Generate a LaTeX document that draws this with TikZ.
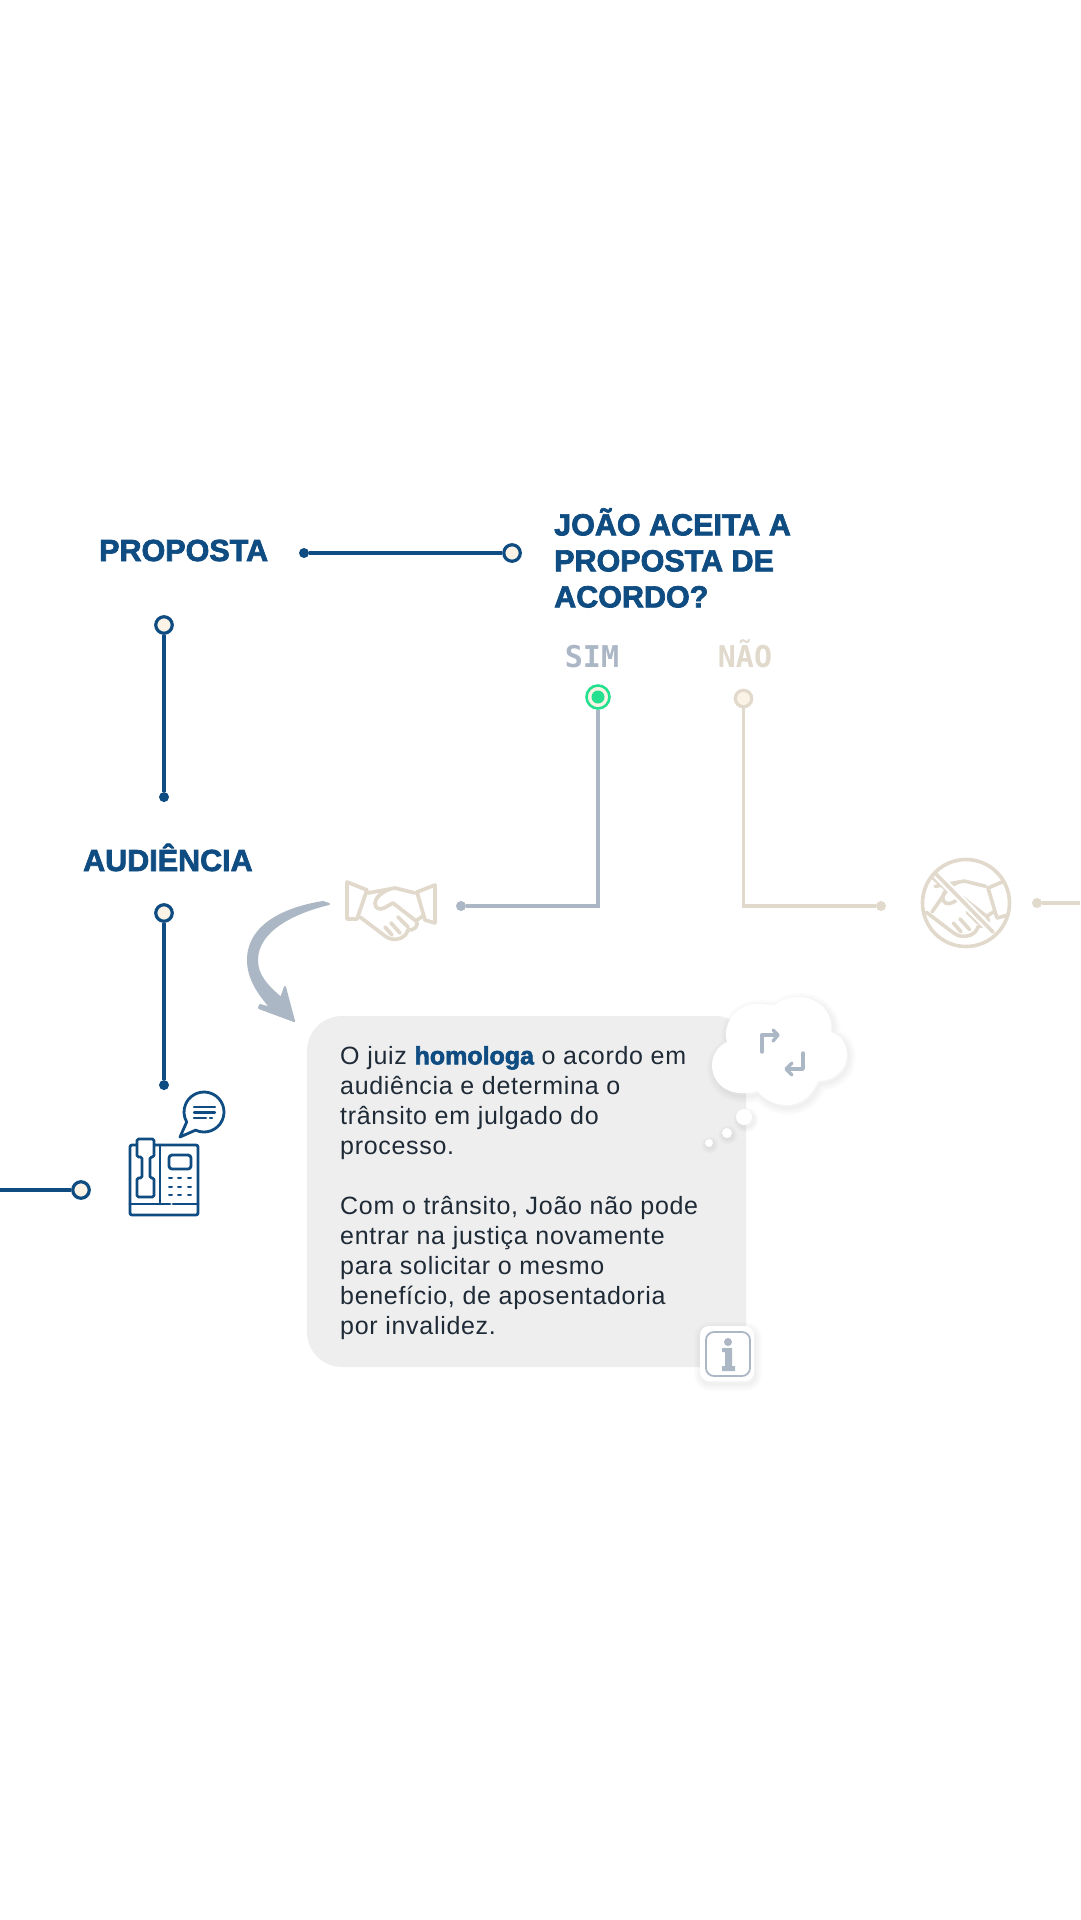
\documentclass[tikz,border=0pt]{standalone}
\usepackage{fontspec}
\setmainfont{Liberation Sans}
\newfontfamily\headfont[FakeBold=2.4]{Liberation Sans Bold}
\newfontfamily\bodyfont[LetterSpace=2.8]{Liberation Sans}
\newfontfamily\monofont{DejaVu Sans Mono Bold}
\usetikzlibrary{positioning, calc}

\definecolor{navy}{HTML}{0F4C81}
\definecolor{steel}{HTML}{ACB7C6}
\definecolor{sand}{HTML}{E1DACC}
\definecolor{cream}{HTML}{FBF3E6}
\definecolor{mint}{HTML}{25E08F}
\definecolor{cardgray}{HTML}{EEEEEE}
\definecolor{ink}{HTML}{1F2A37}

\newcommand{\handclasp}{%
  \draw (-24,-20) -- (-2,-24) .. controls (-10,-21) and (-17,-15) .. (-17,-10)
    .. controls (-17,-4) and (-12,-3) .. (-8,-5) -- (1,-10) -- (24,8)
    .. controls (28,12) and (22,18) .. (16,17) .. controls (14,22) and (12,24) .. (9,25)
    .. controls (4,27) and (-2,27) .. (-7,23) -- (-32,4);
  \draw (23,-20) -- (3,-25) -- (-2,-24);
  \draw (25,7) -- (31,3);
  \draw (6,4) -- (16,14);
  \draw (-1,10) -- (8,20);
  \draw (-7,14) -- (0,22);
}
\newcommand{\cloudpath}{(727,1042) .. controls (722,1025) and (735,1004) .. (757,1004)
  .. controls (765,1004) and (770,1005) .. (775,1005) .. controls (782,999) and (790,997) .. (798,997)
  .. controls (818,997) and (834,1012) .. (831,1032) .. controls (842,1035) and (847,1045) .. (847,1055)
  .. controls (847,1070) and (833,1081) .. (818,1081) .. controls (812,1096) and (800,1105) .. (787,1105)
  .. controls (775,1105) and (765,1100) .. (757,1091) .. controls (752,1093) and (748,1093) .. (742,1093)
  .. controls (725,1093) and (712,1082) .. (712,1065) .. controls (712,1055) and (718,1046) .. (727,1042) -- cycle}

\begin{document}
\begin{tikzpicture}[
    x=1pt, y=-1pt,
    ringnode/.style={draw=navy, circle, fill=cream, line width=3.2pt, minimum size=16.5pt, inner sep=0pt},
    dotnode/.style={circle, fill=navy, minimum size=10pt, inner sep=0pt},
    headtext/.style={text=navy, font=\headfont\fontsize{30.5}{36}\selectfont, inner sep=0pt, align=left},
    choicetext/.style={font=\monofont\fontsize{30}{34}\selectfont, inner sep=0pt, anchor=base},
    link/.style={line width=3.2pt, navy}
]
\useasboundingbox[fill=white] (0,0) rectangle (1080,1920);

% Nodes
\node (proposta) [headtext, anchor=base west] at (99,561) {PROPOSTA};
\node (propostadot) [dotnode] at (304,553) {};
\node (propostaring) [ringnode, right=193pt of propostadot] {};
\node (pergunta) [headtext, anchor=north west] at (554,508) {JOÃO ACEITA A\\PROPOSTA DE\\ACORDO?};
\node (simlabel) [choicetext, text=steel] at (592,667) {SIM};
\node (naolabel) [choicetext, text=sand] at (745,667) {NÃO};
\node (simring) [draw=mint, circle, fill=cream, line width=2.6pt, minimum size=23pt, inner sep=0pt] at (598,697) {};
\node (simcore) [circle, fill=mint, minimum size=13pt, inner sep=0pt] at (simring) {};
\node (naoring) [ringnode, draw=sand] at (743.5,698.5) {};
\node (simdot) [dotnode, fill=steel] at (461,906) {};
\node (naodot) [dotnode, fill=sand] at (881,906) {};
\node (semdot) [dotnode, fill=sand] at (1037,903) {};
\coordinate (semend) at (1080,903);
\node (topring) [ringnode] at (164,625) {};
\node (topdot) [dotnode, below=157pt of topring] {};
\node (audiencia) [headtext, anchor=base west] at (83,871) {AUDIÊNCIA};
\node (midring) [ringnode] at (164,913) {};
\node (middot) [dotnode, below=157pt of midring] {};
\coordinate (lowstart) at (0,1190);
\node (lowring) [ringnode] at (81,1190) {};

% Arrows
\draw[link] (propostadot) -- (propostaring);
\draw[link] (topring) -- (topdot);
\draw[link] (midring) -- (middot);
\draw[link] (lowstart) -- (lowring);
\draw[line width=3.4pt, steel] (simring) |- (simdot);
\draw[line width=3.4pt, sand] (naoring) |- (naodot);
\draw[line width=3.4pt, sand] (semdot) -- (semend);

% Curved arrow
\fill[steel, draw=steel, line width=2pt, line join=round]
  (323,902) .. controls (285,908) and (248,925) .. (248,960)
  .. controls (248,978) and (258,993) .. (271,1008)
  -- (260,1005) -- (259,1008) -- (294,1021) -- (285,987) -- (281,998)
  .. controls (266,985) and (257,975) .. (257,960)
  .. controls (257,930) and (295,912) .. (329,904) -- cycle;

% Handshake
\begin{scope}[sand, line width=3.7pt, line join=round, line cap=round]
  \draw (347,882) -- (367,890) -- (357,919) -- (347,919) -- cycle;
  \draw (435,885) -- (417,892) -- (425,920) -- (435,923) -- cycle;
  \begin{scope}[shift={(392,913)}]
    \handclasp
  \end{scope}
\end{scope}

% Refused handshake
\begin{scope}[sand, line width=3.6pt, line join=round, line cap=round]
  \begin{scope}[shift={(961,908)}, scale=1.08]
    \handclasp
  \end{scope}
  \draw (932,877) -- (947,890) -- (932,912);
  \draw (1002,882) -- (988,888) -- (997,918) -- (1008,915);
  \draw[white, line width=8pt, line cap=butt] (934,872) -- (994,933);
  \draw (935,873) -- (993,932);
  \draw (966,903) circle (43.5);
\end{scope}

% Telephone
\begin{scope}[navy, line width=2.8pt, line join=round, line cap=round]
  \draw[rounded corners=2pt] (130,1145) rectangle (198,1215);
  \draw (160,1145) -- (160,1204);
  \draw (130,1204) -- (170,1204);
  \draw (173,1204) -- (198,1204);
  \fill[white, rounded corners=2pt] (137,1139) rectangle (154,1197);
  \draw[rounded corners=1.5pt] (137,1139) -- (154,1139) -- (154,1157) -- (150,1157) -- (150,1178) -- (154,1178)
    -- (154,1197) -- (137,1197) -- (137,1178) -- (142,1178) -- (142,1157) -- (137,1157) -- cycle;
  \draw[rounded corners=3pt] (169,1155) rectangle (191,1169);
  \foreach \keyy in {1178,1187,1195} {
    \foreach \keyx in {169,178,188} {
      \draw[line width=2pt] (\keyx,\keyy) -- +(3,0);
    }
  }
  \draw ([shift={(245:20pt)}]204,1112) arc[start angle=245, end angle=570, radius=20pt] -- (180,1137) -- cycle;
  \draw[line width=2.2pt] (194,1107) -- (215,1107);
  \draw[line width=2.2pt] (194,1112.5) -- (215,1112.5);
  \draw[line width=2.2pt] (194,1118) -- (206,1118);
  \draw[line width=2.2pt] (210,1118) -- (212,1118);
\end{scope}

% Card
\fill[cardgray] (342,1016) -- (716,1016) arc[start angle=90, end angle=0, radius=30pt] -- (746,1367) -- (342,1367)
  arc[start angle=270, end angle=180, radius=35pt] -- (307,1051) arc[start angle=180, end angle=90, radius=35pt] -- cycle;
\node (cardtext) [anchor=north west, inner sep=0pt, align=left, text=ink,
    font=\bodyfont\fontsize{25}{30}\selectfont] at (340,1046)
  {O juiz {\headfont\color{navy}homologa} o acordo em\\
   audiência e determina o\\
   trânsito em julgado do\\
   processo.\\[30pt]
   Com o trânsito, João não pode\\
   entrar na justiça novamente\\
   para solicitar o mesmo\\
   benefício, de aposentadoria\\
   por invalidez.};

% Cloud
\foreach \spread in {14,11,8,5,2} {
  \draw[black, opacity=0.01, line width=\spread pt, line join=round, shift={(2,3)}] \cloudpath;
  \fill[black, opacity=0.012, shift={(2,3)}] (744,1117) circle (8+\spread/3);
  \fill[black, opacity=0.012, shift={(1,2)}] (727,1133) circle (5+\spread/3);
  \fill[black, opacity=0.012, shift={(1,2)}] (709,1143) circle (4+\spread/3);
}
\fill[white] \cloudpath;
\fill[white] (744,1117) circle (8);
\fill[white] (727,1133) circle (5);
\fill[white] (709,1143) circle (4);
\begin{scope}[steel, line width=3.4pt, line join=round, line cap=round]
  \draw (762,1052) -- (762,1035) -- (777,1035);
  \draw (773,1030) -- (778,1035) -- (773,1041);
  \draw (803,1053) -- (803,1069) -- (787,1069);
  \draw (792,1063) -- (786,1069) -- (792,1075);
\end{scope}

% Info button
\foreach \spread in {14,11,8,5,2} {
  \draw[black, opacity=0.012, line width=\spread pt, rounded corners=9pt, shift={(1,3)}] (700,1326) rectangle (754,1381);
}
\fill[white, rounded corners=9pt] (700,1326) rectangle (754,1381);
\draw[steel, line width=1.8pt, rounded corners=8pt] (706,1332) rectangle (750,1376);
\fill[steel] (728,1342) circle (4);
\fill[steel] (722,1348) -- (732,1348) -- (732,1366) -- (735,1366) -- (735,1371) -- (722,1371) -- (722,1366) -- (725,1366) -- (725,1352) -- (722,1352) -- cycle;
\end{tikzpicture}
\end{document}
